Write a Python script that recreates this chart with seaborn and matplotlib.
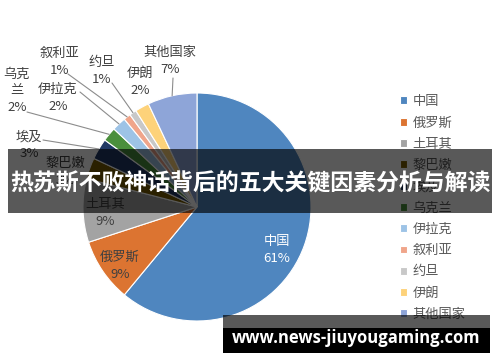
import matplotlib
matplotlib.use("Agg")
import matplotlib.pyplot as plt
from matplotlib.patches import Rectangle
import seaborn as sns
import numpy as np

# ---- data ----
countries = ["中国", "俄罗斯", "土耳其", "黎巴嫩", "埃及", "乌克兰", "伊拉克", "叙利亚", "约旦", "伊朗", "其他国家"]
shares = [61, 9, 9, 3, 3, 2, 2, 1, 1, 2, 7]
label_names = ["中国", "俄罗斯", "土耳其", "黎巴嫩", "埃及", "乌克\n兰", "伊拉克", "叙利亚", "约旦", "伊朗", "其他国家"]
title_text = "热苏斯不败神话背后的五大关键因素分析与解读"
url_text = "www.news-jiuyougaming.com"

colors = ["#4f86bf", "#dc7431", "#a3a3a3", "#7a5c00", "#203864", "#4a8f3c",
          "#9dc3e6", "#f0a58a", "#c8c8c8", "#fdd27a", "#8ea5d8"]

# ---- layout (pixel positions) ----
W, H = 500, 362
label_pos = {"中国": (277, 250), "俄罗斯": (120, 266), "土耳其": (105, 213), "黎巴嫩": (65, 172),
             "埃及": (29, 145), "乌克兰": (17, 91), "伊拉克": (58, 98), "叙利亚": (60, 62),
             "约旦": (102, 71), "伊朗": (140, 82), "其他国家": (170, 61)}
leader_start = {"埃及": (43, 140), "乌克兰": (27, 112), "伊拉克": (80, 92), "叙利亚": (68, 74),
                "约旦": (112, 83), "其他国家": (173, 78)}

sns.set_theme(style="white")
plt.rcParams["font.family"] = ["Noto Sans CJK SC", "DejaVu Sans"]

fig = plt.figure(figsize=(W / 100, H / 100), dpi=100)
ax = fig.add_axes([0, 0, 1, 1])

def P(x, y):
    return (x, H - y)

wedges, _ = ax.pie(shares, colors=colors, startangle=90, counterclock=False,
                   center=P(197, 207), radius=114,
                   wedgeprops=dict(edgecolor="white", linewidth=0.8))
ax.set_xlim(0, W)
ax.set_ylim(0, H)
ax.set_aspect("auto")
ax.axis("off")

# labels
for name, lab, val, w in zip(countries, label_names, shares, wedges):
    x, y = label_pos[name]
    col = "white" if name == "中国" else "#404040"
    ax.text(*P(x, y), f"{lab}\n{val}%", ha="center", va="center", fontsize=9.5,
            color=col, linespacing=1.35, zorder=5)
    if name in leader_start:
        ang = np.deg2rad((w.theta1 + w.theta2) / 2)
        cx, cy = w.center
        ex, ey = cx + w.r * np.cos(ang), cy + w.r * np.sin(ang)
        sx, sy = P(*leader_start[name])
        ax.plot([sx, ex], [sy, ey], color="#8c8c8c", lw=0.8, zorder=4)

# legend
leg = ax.legend(wedges, countries, loc="upper left", bbox_to_anchor=(400 / W, 1 - 95 / H),
                frameon=False, fontsize=9.5, handlelength=0.55, handleheight=0.55,
                handletextpad=0.4, labelspacing=0.63, borderaxespad=0, borderpad=0)
for t in leg.get_texts():
    t.set_color("#595959")

# title banner overlay
ax.add_patch(Rectangle(P(8, 213), 484, 64, facecolor="black", alpha=0.65, edgecolor="none", zorder=10))
ax.text(*P(250, 184), title_text, ha="center", va="center", fontsize=16.5, fontweight="bold",
        color="white", zorder=11)

# url banner
ax.add_patch(Rectangle(P(223, 353), 267, 38, facecolor="black", alpha=0.65, edgecolor="none", zorder=10))
ax.add_patch(Rectangle(P(223, 353), 267, 25, facecolor="black", edgecolor="none", zorder=10))
ax.text(*P(356, 338), url_text, ha="center", va="center", fontsize=12, fontweight="bold",
        color="white", family=["Open Sans", "DejaVu Sans"], zorder=11)

fig.savefig("out.png", dpi=100)
